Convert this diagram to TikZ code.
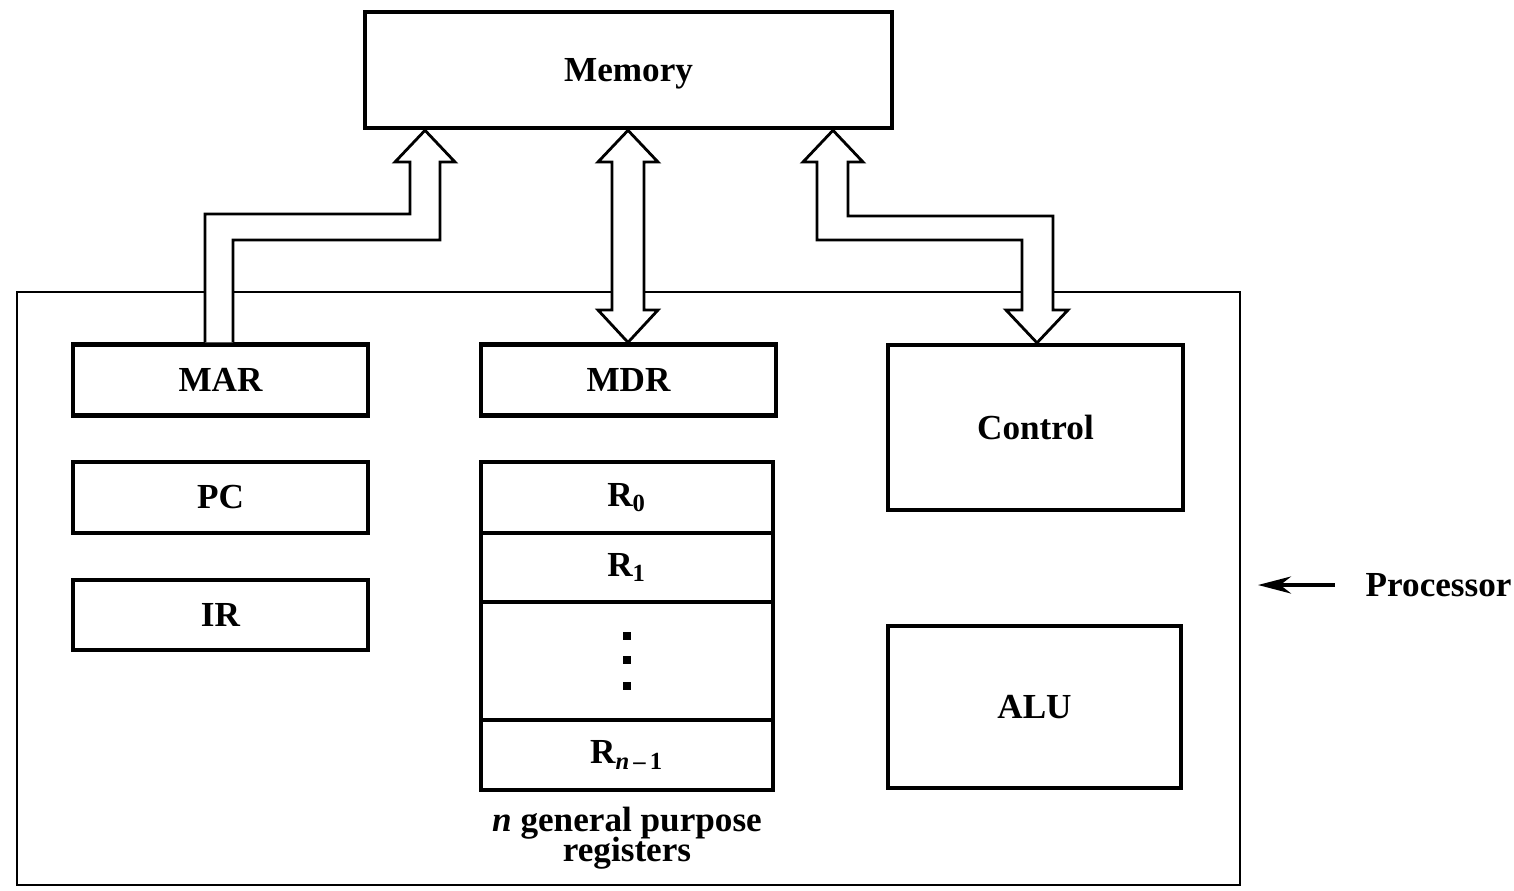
\documentclass[tikz,border=0pt]{standalone}
\usepackage{fontspec}
\setmainfont{Liberation Serif}
\usetikzlibrary{arrows.meta}
\tikzset{reg/.style={draw,line width=1.2pt,minimum width=2.95cm,minimum height=0.71cm,inner sep=0pt,font=\bfseries},
         bus/.style={draw,line width=0.8pt,fill=white,line join=miter},
        }

\begin{document}
\begin{tikzpicture}[x=0.01cm,y=-0.01cm]
        \useasboundingbox (0,0) rectangle (1514,890);
        \node[draw,line width=0.6pt,minimum width=12.23cm,minimum height=5.93cm,inner sep=0pt](cpu)at(628.5,588.5){};
        \node[reg,line width=1.3pt,minimum width=5.27cm,minimum height=1.16cm,text depth=0pt](mem)at(628.5,70){Memory};

        \node[reg](mar)at(220.5,380){MAR};
        \node[reg](pc)at(220.5,497.5){PC};
        \node[reg,minimum height=0.70cm](ir)at(220.5,615){IR};

        \node[reg](mdr)at(628.5,380){MDR};
        \node[reg,minimum width=2.92cm](r0)at(627,497.5){R\textsubscript{0}};
        \node[reg,minimum width=2.92cm,minimum height=0.69cm](r1)at(627,567.5){R\textsubscript{1}};
        \node[reg,minimum width=2.92cm,minimum height=1.18cm](rd)at(627,661){};
        \node[reg,minimum width=2.92cm,minimum height=0.70cm](rn)at(627,755){R\textsubscript{\textit{n}\,--\,1}};
        \node[font=\bfseries,align=center,inner sep=0pt](cap)at(627,838){\textit{n} general purpose\\[-3.4pt]registers};

        \node[reg,minimum height=1.65cm](ctl)at(1035.5,427.5){Control};
        \node[reg,minimum width=2.93cm,minimum height=1.62cm](alu)at(1034.5,707){ALU};

        \node[font=\bfseries,inner sep=0pt,anchor=west](proc)at(1365,585){Processor};
        \coordinate(ptr)at(1258,585);

        % dots in the register file
        \foreach \y in {636,660,686}
            \fill (623,\y-4) rectangle (631,\y+4);

        % buses
        \draw[bus](205,0 |- mar.north)--(205,214)--(410,214)--(410,162)--(395,162)
            --(425,0 |- mem.south)--(455,162)--(440,162)--(440,240)--(233,240)--(233,0 |- mar.north);
        \draw[bus](612,162)--(612,310)--(598,310)--(628,0 |- mdr.north)--(658,310)--(644,310)
            --(644,162)--(658,162)--(628,0 |- mem.south)--(598,162)--cycle;
        \draw[bus](817,162)--(817,240)--(1022,240)--(1022,310)--(1006,310)--(1037,0 |- ctl.north)
            --(1068,310)--(1053,310)--(1053,216)--(848,216)--(848,162)--(863,162)
            --(833,0 |- mem.south)--(803,162)--cycle;

        \draw[-{Stealth[length=0.33cm,width=0.17cm]},line width=1.1pt,shorten <=0.3cm](proc.west)--(ptr);
\end{tikzpicture}
\end{document}
